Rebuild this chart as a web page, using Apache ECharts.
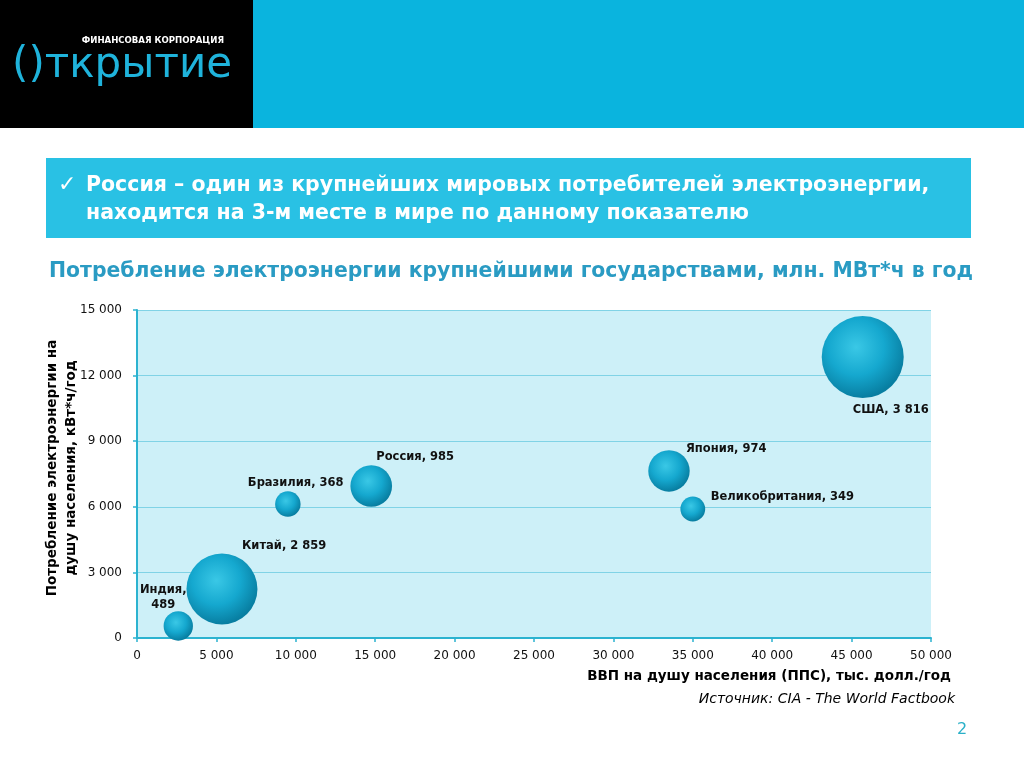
<!DOCTYPE html>
<html><head><meta charset="utf-8">
<script src="https://cdn.jsdelivr.net/npm/echarts@6/dist/echarts.min.js"></script>
<style>html,body{margin:0;padding:0;background:#fff}#c{width:1024px;height:768px}</style>
</head><body><div id="c"></div>
<script>
// ---- data ----
var countries = ['Индия', 'Китай', 'Бразилия', 'Россия', 'Япония', 'Великобритания', 'США'];
var gdpPerCapita = [2600, 5350, 9500, 14750, 33500, 35000, 45700];      // x, $ / year
var consumptionPerCapita = [550, 2240, 6130, 6950, 7640, 5900, 12850];  // y, kWh / year
var totalConsumption = [489, 2859, 368, 985, 974, 349, 3816];           // bubble, mln MWh
var xTicks = [0, 5000, 10000, 15000, 20000, 25000, 30000, 35000, 40000, 45000, 50000];
var yTicks = [0, 3000, 6000, 9000, 12000, 15000];

// ---- label placement (style) ----
var labelPlace = {
  'Индия':          {align: 'center', offset: [-15, -28]},
  'Китай':          {align: 'left', offset: [20, -43]},
  'Бразилия':       {align: 'left', offset: [-40, -21]},
  'Россия':         {align: 'left', offset: [5, -29]},
  'Япония':         {align: 'left', offset: [17, -22]},
  'Великобритания': {align: 'left', offset: [18, -12]},
  'США':            {align: 'left', offset: [-10, 53]}
};

function fmt(n) { return String(n).replace(/\B(?=(\d{3})+(?!\d))/g, ' '); }

var maxTotal = Math.max.apply(null, totalConsumption);
var seriesData = countries.map(function (c, i) {
  var p = labelPlace[c];
  var txt = c === 'Индия' ? c + ',\n' + fmt(totalConsumption[i]) : c + ', ' + fmt(totalConsumption[i]);
  return {
    name: c,
    value: [gdpPerCapita[i], consumptionPerCapita[i], totalConsumption[i]],
    label: {
      show: true, position: 'inside', formatter: txt,
      align: p.align, verticalAlign: 'middle', offset: p.offset
    }
  };
});

var chart = echarts.init(document.getElementById('c'), null, {renderer: 'canvas'});
var FONT = 'DejaVu Sans, Verdana, sans-serif';

chart.setOption({
  animation: false,
  backgroundColor: '#ffffff',
  graphic: [
    {type: 'rect', shape: {x: 0, y: 0, width: 253, height: 128}, style: {fill: '#000000'}, z: -10},
    {type: 'rect', shape: {x: 253, y: 0, width: 771, height: 128}, style: {fill: '#0ab4de'}, z: -10},
    {type: 'text', x: 224, y: 41, style: {text: 'ФИНАНСОВАЯ КОРПОРАЦИЯ', fill: '#ffffff', font: 'bold 9.5px "DejaVu Sans Condensed", "DejaVu Sans", sans-serif', align: 'right', verticalAlign: 'middle'}},
    {type: 'text', x: 12, y: 66, style: {text: '()ткрытие', fill: '#1fb3db', font: '42px "DejaVu Sans", sans-serif', align: 'left', verticalAlign: 'middle'}},
    {type: 'rect', shape: {x: 46, y: 158, width: 925, height: 80}, style: {fill: '#29c1e4'}, z: -10},
    {type: 'text', x: 58, y: 185, style: {text: '✓', fill: '#ffffff', font: '22px "DejaVu Sans", sans-serif', verticalAlign: 'middle'}},
    {type: 'text', x: 86, y: 186, style: {text: 'Россия – один из крупнейших мировых потребителей электроэнергии,', fill: '#ffffff', font: 'bold 20.5px "DejaVu Sans", sans-serif', verticalAlign: 'middle'}},
    {type: 'text', x: 86, y: 214, style: {text: 'находится на 3-м месте в мире по данному показателю', fill: '#ffffff', font: 'bold 20.5px "DejaVu Sans", sans-serif', verticalAlign: 'middle'}},
    {type: 'text', x: 511, y: 272, style: {text: 'Потребление электроэнергии крупнейшими государствами, млн. МВт*ч в год', fill: '#2a9bc3', font: 'bold 20.4px "DejaVu Sans", sans-serif', align: 'center', verticalAlign: 'middle'}},
    {type: 'text', x: 62, y: 468, rotation: Math.PI / 2, style: {text: 'Потребление электроэнергии на\nдушу населения, кВт*ч/год', fill: '#000000', font: 'bold 13.5px "DejaVu Sans", sans-serif', align: 'center', verticalAlign: 'middle', lineHeight: 19}},
    {type: 'text', x: 951, y: 676, style: {text: 'ВВП на душу населения (ППС), тыс. долл./год', fill: '#000000', font: 'bold 13.5px "DejaVu Sans", sans-serif', align: 'right', verticalAlign: 'middle'}},
    {type: 'text', x: 955, y: 699, style: {text: 'Источник: CIA - The World Factbook', fill: '#000000', font: 'italic 14px "DejaVu Sans", sans-serif', align: 'right', verticalAlign: 'middle'}},
    {type: 'text', x: 962, y: 730, style: {text: '2', fill: '#2ab0c8', font: '16px "DejaVu Sans", sans-serif', align: 'center', verticalAlign: 'middle'}}
  ],
  grid: {left: 137, right: 93, top: 310, bottom: 130, show: true, backgroundColor: '#cdf0f8', borderWidth: 0},
  xAxis: {
    type: 'value', min: 0, max: 50000, interval: 5000,
    axisLine: {show: true, lineStyle: {color: '#2cb3d0', width: 2}},
    axisTick: {show: true, length: 4, lineStyle: {color: '#2cb3d0', width: 1.5}},
    splitLine: {show: false},
    axisLabel: {color: '#111', fontFamily: FONT, fontSize: 12, margin: 12, formatter: function (v) { return fmt(v); }}
  },
  yAxis: {
    type: 'value', min: 0, max: 15000, interval: 3000,
    axisLine: {show: true, lineStyle: {color: '#2cb3d0', width: 2}},
    axisTick: {show: true, length: 4, lineStyle: {color: '#2cb3d0', width: 1.5}},
    splitLine: {show: true, lineStyle: {color: '#80d3e6', width: 1}},
    axisLabel: {color: '#111', fontFamily: FONT, fontSize: 12, margin: 15, formatter: function (v) { return fmt(v); }}
  },
  series: [{
    type: 'scatter',
    data: seriesData,
    symbolSize: function (val) { return 82 * Math.sqrt(val[2] / maxTotal); },
    itemStyle: {
      color: new echarts.graphic.RadialGradient(0.42, 0.38, 0.62, [
        {offset: 0, color: '#3ac8e6'},
        {offset: 0.55, color: '#15a8cf'},
        {offset: 1, color: '#087ea1'}
      ]),
      opacity: 1
    },
    label: {color: '#111', fontFamily: FONT, fontWeight: 'bold', fontSize: 11.5, lineHeight: 15}
  }]
});
</script></body></html>
